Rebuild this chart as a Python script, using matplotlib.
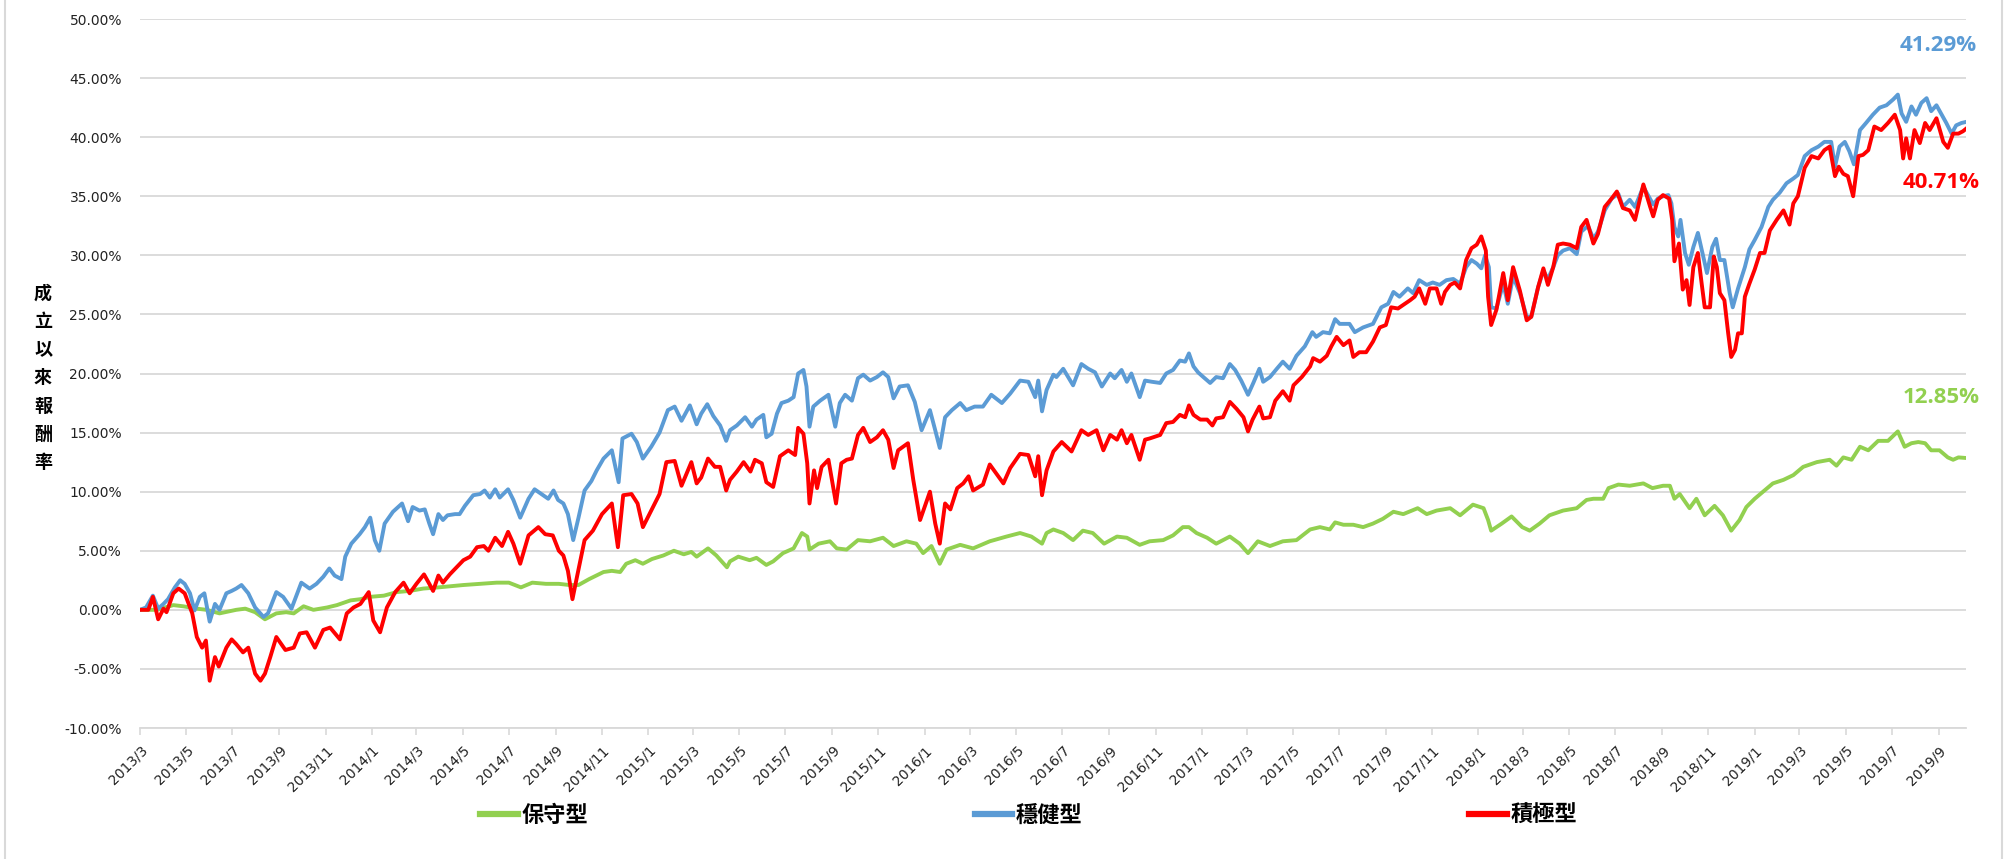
import pandas as pd
import matplotlib
matplotlib.use("Agg")
import matplotlib.pyplot as plt
from matplotlib.lines import Line2D
from matplotlib.font_manager import FontProperties

# 保守型 (conservative) - return since inception, %
conservative = [
    ("2013-03-01", 0.0), ("2013-03-23", 0.0), ("2013-04-14", 0.4), ("2013-04-27", 0.3), ("2013-05-15", 0.1),
    ("2013-05-28", 0.0), ("2013-06-14", -0.3), ("2013-07-06", 0.0), ("2013-07-18", 0.1), ("2013-07-31", -0.2),
    ("2013-08-13", -0.8), ("2013-08-28", -0.3), ("2013-09-10", -0.2), ("2013-09-20", -0.3), ("2013-10-03", 0.3),
    ("2013-10-16", 0.0), ("2013-11-03", 0.2), ("2013-11-16", 0.4), ("2013-12-04", 0.8), ("2013-12-17", 0.9),
    ("2013-12-30", 1.1), ("2014-01-17", 1.2), ("2014-02-03", 1.5), ("2014-02-20", 1.6), ("2014-03-10", 1.8),
    ("2014-03-30", 1.9), ("2014-05-02", 2.1), ("2014-06-15", 2.3), ("2014-07-01", 2.3), ("2014-07-17", 1.9),
    ("2014-08-01", 2.3), ("2014-08-19", 2.2), ("2014-09-05", 2.2), ("2014-09-19", 2.1), ("2014-10-01", 2.1),
    ("2014-10-15", 2.6), ("2014-11-03", 3.2), ("2014-11-14", 3.3), ("2014-11-25", 3.2), ("2014-12-03", 3.9),
    ("2014-12-15", 4.2), ("2014-12-25", 3.9), ("2015-01-06", 4.3), ("2015-01-21", 4.6), ("2015-02-04", 5.0),
    ("2015-02-17", 4.7), ("2015-02-27", 4.9), ("2015-03-06", 4.5), ("2015-03-21", 5.2), ("2015-04-01", 4.6),
    ("2015-04-15", 3.6), ("2015-04-19", 4.1), ("2015-04-30", 4.5), ("2015-05-15", 4.2), ("2015-05-24", 4.4),
    ("2015-06-06", 3.8), ("2015-06-15", 4.1), ("2015-06-28", 4.8), ("2015-07-12", 5.2), ("2015-07-23", 6.5),
    ("2015-07-30", 6.2), ("2015-08-02", 5.1), ("2015-08-14", 5.6), ("2015-08-29", 5.8), ("2015-09-07", 5.2),
    ("2015-09-20", 5.1), ("2015-10-05", 5.9), ("2015-10-21", 5.8), ("2015-11-07", 6.1), ("2015-11-21", 5.4),
    ("2015-12-08", 5.8), ("2015-12-21", 5.6), ("2015-12-30", 4.8), ("2016-01-10", 5.4), ("2016-01-21", 3.9),
    ("2016-01-30", 5.1), ("2016-02-17", 5.5), ("2016-03-05", 5.2), ("2016-03-27", 5.8), ("2016-04-18", 6.2),
    ("2016-05-06", 6.5), ("2016-05-21", 6.2), ("2016-06-04", 5.6), ("2016-06-10", 6.5), ("2016-06-19", 6.8),
    ("2016-07-02", 6.5), ("2016-07-15", 5.9), ("2016-07-28", 6.7), ("2016-08-10", 6.5), ("2016-08-25", 5.6),
    ("2016-09-11", 6.2), ("2016-09-24", 6.1), ("2016-10-11", 5.5), ("2016-10-24", 5.8), ("2016-11-11", 5.9),
    ("2016-11-24", 6.3), ("2016-12-07", 7.0), ("2016-12-15", 7.0), ("2016-12-25", 6.5), ("2017-01-08", 6.1),
    ("2017-01-20", 5.6), ("2017-02-07", 6.2), ("2017-02-20", 5.6), ("2017-03-03", 4.8), ("2017-03-16", 5.8),
    ("2017-04-01", 5.4), ("2017-04-18", 5.8), ("2017-05-06", 5.9), ("2017-05-24", 6.8), ("2017-06-06", 7.0),
    ("2017-06-19", 6.8), ("2017-06-26", 7.4), ("2017-07-07", 7.2), ("2017-07-20", 7.2), ("2017-08-02", 7.0),
    ("2017-08-15", 7.3), ("2017-08-28", 7.7), ("2017-09-11", 8.3), ("2017-09-24", 8.1), ("2017-10-13", 8.6),
    ("2017-10-25", 8.1), ("2017-11-07", 8.4), ("2017-11-25", 8.6), ("2017-12-08", 8.0), ("2017-12-25", 8.9),
    ("2018-01-08", 8.6), ("2018-01-14", 7.6), ("2018-01-18", 6.7), ("2018-02-01", 7.3), ("2018-02-14", 7.9),
    ("2018-02-28", 7.0), ("2018-03-10", 6.7), ("2018-03-23", 7.3), ("2018-04-05", 8.0), ("2018-04-23", 8.4),
    ("2018-05-11", 8.6), ("2018-05-24", 9.3), ("2018-06-02", 9.4), ("2018-06-15", 9.4), ("2018-06-22", 10.3),
    ("2018-07-05", 10.6), ("2018-07-20", 10.5), ("2018-08-07", 10.7), ("2018-08-19", 10.3), ("2018-09-02", 10.5),
    ("2018-09-11", 10.5), ("2018-09-17", 9.4), ("2018-09-24", 9.8), ("2018-10-07", 8.6), ("2018-10-16", 9.4),
    ("2018-10-27", 8.0), ("2018-11-09", 8.8), ("2018-11-20", 8.0), ("2018-12-01", 6.7), ("2018-12-12", 7.6),
    ("2018-12-21", 8.7), ("2019-01-01", 9.4), ("2019-01-12", 10.0), ("2019-01-25", 10.7), ("2019-02-08", 11.0),
    ("2019-02-21", 11.4), ("2019-03-06", 12.1), ("2019-03-24", 12.5), ("2019-04-10", 12.7), ("2019-04-19", 12.2),
    ("2019-04-28", 12.9), ("2019-05-09", 12.7), ("2019-05-20", 13.8), ("2019-05-31", 13.5), ("2019-06-13", 14.3),
    ("2019-06-26", 14.3), ("2019-07-09", 15.1), ("2019-07-18", 13.8), ("2019-07-27", 14.1), ("2019-08-05", 14.2),
    ("2019-08-14", 14.1), ("2019-08-22", 13.5), ("2019-09-02", 13.5), ("2019-09-13", 12.9), ("2019-09-20", 12.7),
    ("2019-09-27", 12.9), ("2019-10-07", 12.85),
]

# 穩健型 (balanced)
balanced = [
    ("2013-03-01", 0.0), ("2013-03-09", 0.2), ("2013-03-18", 1.2), ("2013-03-25", 0.1), ("2013-04-01", 0.5),
    ("2013-04-07", 0.9), ("2013-04-16", 1.9), ("2013-04-23", 2.5), ("2013-04-29", 2.2), ("2013-05-06", 1.4),
    ("2013-05-12", -0.05), ("2013-05-19", 1.1), ("2013-05-25", 1.4), ("2013-06-01", -1.0), ("2013-06-08", 0.5),
    ("2013-06-14", 0.0), ("2013-06-23", 1.4), ("2013-06-30", 1.6), ("2013-07-06", 1.8), ("2013-07-13", 2.1),
    ("2013-07-22", 1.4), ("2013-07-31", 0.2), ("2013-08-11", -0.6), ("2013-08-17", -0.3), ("2013-08-28", 1.5),
    ("2013-09-06", 1.1), ("2013-09-17", 0.1), ("2013-09-30", 2.3), ("2013-10-11", 1.8), ("2013-10-20", 2.2),
    ("2013-10-29", 2.8), ("2013-11-06", 3.5), ("2013-11-13", 2.9), ("2013-11-22", 2.6), ("2013-11-27", 4.5),
    ("2013-12-05", 5.6), ("2013-12-16", 6.4), ("2013-12-23", 7.0), ("2013-12-30", 7.8), ("2014-01-05", 5.9),
    ("2014-01-11", 5.0), ("2014-01-18", 7.3), ("2014-01-29", 8.3), ("2014-02-10", 9.0), ("2014-02-18", 7.5),
    ("2014-02-24", 8.7), ("2014-03-05", 8.4), ("2014-03-12", 8.5), ("2014-03-18", 7.3), ("2014-03-23", 6.4),
    ("2014-03-30", 8.1), ("2014-04-05", 7.6), ("2014-04-11", 8.0), ("2014-04-21", 8.1), ("2014-04-27", 8.1),
    ("2014-05-04", 8.8), ("2014-05-15", 9.7), ("2014-05-24", 9.8), ("2014-05-30", 10.1), ("2014-06-06", 9.5),
    ("2014-06-13", 10.2), ("2014-06-19", 9.5), ("2014-06-30", 10.2), ("2014-07-07", 9.3), ("2014-07-16", 7.8),
    ("2014-07-27", 9.4), ("2014-08-04", 10.2), ("2014-08-13", 9.8), ("2014-08-22", 9.4), ("2014-08-29", 10.1),
    ("2014-09-04", 9.3), ("2014-09-11", 9.0), ("2014-09-17", 8.1), ("2014-09-24", 5.9), ("2014-10-01", 7.8),
    ("2014-10-09", 10.1), ("2014-10-18", 10.9), ("2014-10-25", 11.8), ("2014-11-03", 12.8), ("2014-11-14", 13.5),
    ("2014-11-23", 10.8), ("2014-11-28", 14.5), ("2014-12-10", 14.9), ("2014-12-17", 14.2), ("2014-12-25", 12.8),
    ("2015-01-05", 13.8), ("2015-01-16", 15.0), ("2015-01-27", 16.9), ("2015-02-05", 17.2), ("2015-02-14", 16.0),
    ("2015-02-25", 17.3), ("2015-03-06", 15.7), ("2015-03-12", 16.6), ("2015-03-20", 17.4), ("2015-03-28", 16.4),
    ("2015-04-06", 15.6), ("2015-04-14", 14.3), ("2015-04-19", 15.2), ("2015-04-28", 15.6), ("2015-05-09", 16.3),
    ("2015-05-18", 15.5), ("2015-05-24", 16.1), ("2015-06-02", 16.5), ("2015-06-06", 14.6), ("2015-06-13", 14.9),
    ("2015-06-20", 16.6), ("2015-06-26", 17.5), ("2015-07-05", 17.7), ("2015-07-12", 18.0), ("2015-07-18", 20.0),
    ("2015-07-25", 20.3), ("2015-07-29", 18.9), ("2015-08-02", 15.5), ("2015-08-07", 17.2), ("2015-08-16", 17.7),
    ("2015-08-27", 18.2), ("2015-09-05", 15.5), ("2015-09-11", 17.5), ("2015-09-18", 18.2), ("2015-09-27", 17.7),
    ("2015-10-05", 19.6), ("2015-10-12", 19.9), ("2015-10-21", 19.4), ("2015-10-30", 19.7), ("2015-11-07", 20.1),
    ("2015-11-14", 19.7), ("2015-11-21", 17.9), ("2015-11-29", 18.9), ("2015-12-10", 19.0), ("2015-12-19", 17.6),
    ("2015-12-28", 15.2), ("2016-01-08", 16.9), ("2016-01-15", 15.2), ("2016-01-21", 13.7), ("2016-01-28", 16.3),
    ("2016-02-06", 16.9), ("2016-02-17", 17.5), ("2016-02-25", 16.9), ("2016-03-07", 17.2), ("2016-03-18", 17.2),
    ("2016-03-29", 18.2), ("2016-04-12", 17.5), ("2016-04-23", 18.3), ("2016-05-06", 19.4), ("2016-05-17", 19.3),
    ("2016-05-26", 18.0), ("2016-05-30", 19.4), ("2016-06-04", 16.8), ("2016-06-10", 18.6), ("2016-06-19", 19.9),
    ("2016-06-23", 19.7), ("2016-07-02", 20.4), ("2016-07-15", 19.0), ("2016-07-26", 20.8), ("2016-08-04", 20.4),
    ("2016-08-13", 20.1), ("2016-08-22", 18.9), ("2016-09-02", 20.0), ("2016-09-08", 19.6), ("2016-09-17", 20.3),
    ("2016-09-24", 19.3), ("2016-09-30", 20.0), ("2016-10-11", 18.0), ("2016-10-18", 19.4), ("2016-10-27", 19.3),
    ("2016-11-07", 19.2), ("2016-11-15", 20.0), ("2016-11-24", 20.3), ("2016-12-03", 21.1), ("2016-12-10", 21.0),
    ("2016-12-15", 21.7), ("2016-12-21", 20.6), ("2016-12-27", 20.1), ("2017-01-03", 19.7), ("2017-01-12", 19.2),
    ("2017-01-20", 19.7), ("2017-01-29", 19.6), ("2017-02-07", 20.8), ("2017-02-14", 20.3), ("2017-02-22", 19.4),
    ("2017-03-03", 18.2), ("2017-03-10", 19.2), ("2017-03-18", 20.4), ("2017-03-23", 19.3), ("2017-04-01", 19.7),
    ("2017-04-10", 20.4), ("2017-04-18", 21.0), ("2017-04-27", 20.4), ("2017-05-06", 21.5), ("2017-05-17", 22.3),
    ("2017-05-27", 23.5), ("2017-06-01", 23.1), ("2017-06-10", 23.5), ("2017-06-19", 23.4), ("2017-06-26", 24.6),
    ("2017-07-02", 24.2), ("2017-07-15", 24.2), ("2017-07-22", 23.5), ("2017-08-02", 23.9), ("2017-08-15", 24.2),
    ("2017-08-26", 25.6), ("2017-09-04", 25.9), ("2017-09-11", 26.9), ("2017-09-19", 26.5), ("2017-09-30", 27.2),
    ("2017-10-07", 26.8), ("2017-10-15", 27.9), ("2017-10-25", 27.5), ("2017-11-02", 27.7), ("2017-11-11", 27.5),
    ("2017-11-20", 27.9), ("2017-11-29", 28.0), ("2017-12-08", 27.6), ("2017-12-16", 29.0), ("2017-12-23", 29.6),
    ("2017-12-30", 29.3), ("2018-01-05", 28.9), ("2018-01-10", 30.0), ("2018-01-15", 29.0), ("2018-01-18", 25.6),
    ("2018-01-25", 25.5), ("2018-02-03", 27.6), ("2018-02-09", 25.9), ("2018-02-16", 28.2), ("2018-02-25", 26.8),
    ("2018-03-06", 24.8), ("2018-03-12", 24.8), ("2018-03-21", 27.3), ("2018-03-28", 28.7), ("2018-04-03", 28.0),
    ("2018-04-10", 29.0), ("2018-04-16", 30.0), ("2018-04-23", 30.4), ("2018-05-02", 30.6), ("2018-05-11", 30.1),
    ("2018-05-17", 32.0), ("2018-05-26", 32.5), ("2018-06-02", 31.4), ("2018-06-08", 32.0), ("2018-06-17", 33.8),
    ("2018-06-26", 34.8), ("2018-07-05", 35.2), ("2018-07-11", 34.1), ("2018-07-20", 34.7), ("2018-07-27", 34.1),
    ("2018-08-07", 35.8), ("2018-08-13", 35.1), ("2018-08-20", 34.3), ("2018-08-26", 34.8), ("2018-09-02", 35.0),
    ("2018-09-09", 35.1), ("2018-09-13", 34.4), ("2018-09-17", 32.4), ("2018-09-22", 31.6), ("2018-09-25", 33.0),
    ("2018-10-01", 30.2), ("2018-10-06", 29.2), ("2018-10-12", 30.7), ("2018-10-18", 31.9), ("2018-10-24", 30.2),
    ("2018-10-30", 28.5), ("2018-11-06", 30.7), ("2018-11-11", 31.4), ("2018-11-16", 29.6), ("2018-11-22", 29.6),
    ("2018-11-29", 26.8), ("2018-12-03", 25.6), ("2018-12-10", 27.2), ("2018-12-19", 29.0), ("2018-12-25", 30.5),
    ("2019-01-01", 31.3), ("2019-01-10", 32.4), ("2019-01-19", 34.1), ("2019-01-25", 34.7), ("2019-02-03", 35.3),
    ("2019-02-12", 36.1), ("2019-02-21", 36.5), ("2019-02-27", 36.8), ("2019-03-08", 38.4), ("2019-03-17", 38.9),
    ("2019-03-26", 39.2), ("2019-04-03", 39.6), ("2019-04-12", 39.6), ("2019-04-17", 37.5), ("2019-04-23", 39.2),
    ("2019-04-30", 39.6), ("2019-05-06", 38.8), ("2019-05-12", 37.7), ("2019-05-20", 40.6), ("2019-05-28", 41.2),
    ("2019-06-06", 41.9), ("2019-06-15", 42.5), ("2019-06-24", 42.7), ("2019-07-03", 43.2), ("2019-07-09", 43.6),
    ("2019-07-14", 42.0), ("2019-07-20", 41.3), ("2019-07-27", 42.6), ("2019-08-02", 41.9), ("2019-08-09", 42.9),
    ("2019-08-16", 43.3), ("2019-08-22", 42.2), ("2019-08-29", 42.7), ("2019-09-04", 42.0), ("2019-09-11", 41.2),
    ("2019-09-18", 40.3), ("2019-09-24", 41.0), ("2019-10-01", 41.2), ("2019-10-07", 41.29),
]

# 積極型 (aggressive)
aggressive = [
    ("2013-03-01", 0.0), ("2013-03-12", 0.0), ("2013-03-18", 1.1), ("2013-03-25", -0.8), ("2013-04-01", 0.1),
    ("2013-04-05", -0.2), ("2013-04-14", 1.4), ("2013-04-21", 1.8), ("2013-04-29", 1.4), ("2013-05-09", -0.3),
    ("2013-05-15", -2.3), ("2013-05-22", -3.2), ("2013-05-27", -2.6), ("2013-06-01", -6.0), ("2013-06-08", -4.0),
    ("2013-06-13", -4.8), ("2013-06-23", -3.2), ("2013-06-30", -2.5), ("2013-07-06", -2.9), ("2013-07-15", -3.6),
    ("2013-07-22", -3.2), ("2013-07-31", -5.4), ("2013-08-07", -6.0), ("2013-08-13", -5.4), ("2013-08-20", -4.0),
    ("2013-08-28", -2.3), ("2013-09-09", -3.4), ("2013-09-20", -3.2), ("2013-09-28", -2.0), ("2013-10-07", -1.9),
    ("2013-10-18", -3.2), ("2013-10-29", -1.7), ("2013-11-07", -1.5), ("2013-11-20", -2.5), ("2013-11-29", -0.3),
    ("2013-12-08", 0.2), ("2013-12-17", 0.5), ("2013-12-28", 1.5), ("2014-01-03", -0.9), ("2014-01-12", -1.9),
    ("2014-01-21", 0.2), ("2014-02-01", 1.5), ("2014-02-12", 2.3), ("2014-02-20", 1.4), ("2014-03-01", 2.2),
    ("2014-03-11", 3.0), ("2014-03-18", 2.2), ("2014-03-23", 1.6), ("2014-03-30", 2.9), ("2014-04-05", 2.3),
    ("2014-04-14", 3.0), ("2014-04-23", 3.6), ("2014-05-02", 4.2), ("2014-05-11", 4.5), ("2014-05-20", 5.3),
    ("2014-05-29", 5.4), ("2014-06-04", 5.0), ("2014-06-13", 6.1), ("2014-06-22", 5.4), ("2014-06-30", 6.6),
    ("2014-07-07", 5.6), ("2014-07-16", 3.9), ("2014-07-27", 6.3), ("2014-08-09", 7.0), ("2014-08-18", 6.4),
    ("2014-08-28", 6.3), ("2014-09-05", 5.0), ("2014-09-11", 4.6), ("2014-09-17", 3.3), ("2014-09-23", 0.9),
    ("2014-09-29", 2.8), ("2014-10-09", 5.9), ("2014-10-20", 6.7), ("2014-11-01", 8.1), ("2014-11-14", 9.0),
    ("2014-11-22", 5.3), ("2014-11-29", 9.7), ("2014-12-10", 9.8), ("2014-12-18", 9.0), ("2014-12-25", 7.0),
    ("2015-01-05", 8.4), ("2015-01-16", 9.8), ("2015-01-25", 12.5), ("2015-02-05", 12.6), ("2015-02-14", 10.5),
    ("2015-02-27", 12.5), ("2015-03-06", 10.7), ("2015-03-12", 11.2), ("2015-03-21", 12.8), ("2015-03-30", 12.1),
    ("2015-04-06", 12.1), ("2015-04-14", 10.1), ("2015-04-19", 11.0), ("2015-04-28", 11.7), ("2015-05-07", 12.5),
    ("2015-05-16", 11.7), ("2015-05-22", 12.7), ("2015-05-31", 12.4), ("2015-06-06", 10.8), ("2015-06-15", 10.4),
    ("2015-06-24", 13.0), ("2015-07-05", 13.5), ("2015-07-14", 13.1), ("2015-07-18", 15.4), ("2015-07-25", 14.9),
    ("2015-07-30", 12.4), ("2015-08-02", 9.0), ("2015-08-08", 11.8), ("2015-08-12", 10.3), ("2015-08-18", 12.1),
    ("2015-08-27", 12.7), ("2015-09-06", 9.0), ("2015-09-13", 12.4), ("2015-09-20", 12.7), ("2015-09-27", 12.8),
    ("2015-10-05", 14.8), ("2015-10-12", 15.4), ("2015-10-21", 14.2), ("2015-10-30", 14.6), ("2015-11-07", 15.2),
    ("2015-11-14", 14.4), ("2015-11-21", 12.0), ("2015-11-27", 13.5), ("2015-12-10", 14.1), ("2015-12-17", 11.0),
    ("2015-12-26", 7.6), ("2016-01-08", 10.0), ("2016-01-15", 7.3), ("2016-01-21", 5.6), ("2016-01-28", 9.0),
    ("2016-02-04", 8.5), ("2016-02-13", 10.3), ("2016-02-21", 10.7), ("2016-02-28", 11.3), ("2016-03-05", 10.1),
    ("2016-03-18", 10.6), ("2016-03-27", 12.3), ("2016-04-05", 11.5), ("2016-04-14", 10.7), ("2016-04-23", 12.0),
    ("2016-05-06", 13.2), ("2016-05-17", 13.1), ("2016-05-26", 11.3), ("2016-05-30", 13.0), ("2016-06-04", 9.7),
    ("2016-06-10", 11.8), ("2016-06-19", 13.4), ("2016-06-30", 14.2), ("2016-07-13", 13.4), ("2016-07-26", 15.2),
    ("2016-08-04", 14.8), ("2016-08-15", 15.2), ("2016-08-24", 13.5), ("2016-09-02", 14.8), ("2016-09-11", 14.4),
    ("2016-09-17", 15.2), ("2016-09-24", 14.1), ("2016-09-30", 14.8), ("2016-10-11", 12.7), ("2016-10-18", 14.4),
    ("2016-10-24", 14.5), ("2016-11-07", 14.8), ("2016-11-15", 15.8), ("2016-11-24", 15.9), ("2016-12-03", 16.5),
    ("2016-12-10", 16.3), ("2016-12-15", 17.3), ("2016-12-21", 16.5), ("2016-12-30", 16.1), ("2017-01-08", 16.1),
    ("2017-01-15", 15.6), ("2017-01-20", 16.2), ("2017-01-29", 16.3), ("2017-02-07", 17.6), ("2017-02-16", 17.0),
    ("2017-02-25", 16.3), ("2017-03-03", 15.1), ("2017-03-09", 16.1), ("2017-03-18", 17.2), ("2017-03-23", 16.2),
    ("2017-04-01", 16.3), ("2017-04-08", 17.7), ("2017-04-18", 18.5), ("2017-04-27", 17.7), ("2017-05-02", 19.0),
    ("2017-05-13", 19.7), ("2017-05-24", 20.6), ("2017-05-28", 21.3), ("2017-06-06", 21.0), ("2017-06-15", 21.5),
    ("2017-06-21", 22.3), ("2017-06-28", 23.1), ("2017-07-07", 22.4), ("2017-07-15", 22.8), ("2017-07-20", 21.4),
    ("2017-07-28", 21.8), ("2017-08-06", 21.8), ("2017-08-15", 22.7), ("2017-08-24", 23.9), ("2017-09-01", 24.1),
    ("2017-09-08", 25.6), ("2017-09-17", 25.5), ("2017-09-26", 25.9), ("2017-10-03", 26.2), ("2017-10-09", 26.5),
    ("2017-10-15", 27.2), ("2017-10-23", 25.9), ("2017-10-29", 27.2), ("2017-11-07", 27.2), ("2017-11-13", 25.9),
    ("2017-11-18", 26.9), ("2017-11-25", 27.5), ("2017-12-01", 27.7), ("2017-12-08", 27.2), ("2017-12-16", 29.6),
    ("2017-12-23", 30.6), ("2017-12-30", 30.9), ("2018-01-05", 31.6), ("2018-01-11", 30.4), ("2018-01-14", 26.5),
    ("2018-01-18", 24.1), ("2018-01-25", 25.4), ("2018-02-03", 28.5), ("2018-02-09", 26.2), ("2018-02-16", 29.0),
    ("2018-02-25", 27.0), ("2018-03-06", 24.5), ("2018-03-12", 24.8), ("2018-03-21", 27.3), ("2018-03-28", 28.9),
    ("2018-04-03", 27.5), ("2018-04-10", 29.0), ("2018-04-16", 30.9), ("2018-04-23", 31.0), ("2018-05-02", 30.9),
    ("2018-05-11", 30.6), ("2018-05-17", 32.4), ("2018-05-24", 33.0), ("2018-06-02", 31.0), ("2018-06-08", 31.8),
    ("2018-06-17", 34.1), ("2018-06-26", 34.8), ("2018-07-03", 35.4), ("2018-07-11", 34.0), ("2018-07-20", 33.8),
    ("2018-07-27", 33.0), ("2018-08-07", 36.0), ("2018-08-16", 34.1), ("2018-08-20", 33.3), ("2018-08-26", 34.7),
    ("2018-09-02", 35.1), ("2018-09-10", 34.8), ("2018-09-14", 33.0), ("2018-09-17", 29.5), ("2018-09-23", 31.0),
    ("2018-09-28", 27.1), ("2018-10-03", 27.9), ("2018-10-07", 25.8), ("2018-10-12", 29.0), ("2018-10-18", 30.2),
    ("2018-10-23", 27.6), ("2018-10-27", 25.6), ("2018-11-03", 25.6), ("2018-11-08", 29.9), ("2018-11-12", 29.0),
    ("2018-11-16", 26.8), ("2018-11-22", 26.2), ("2018-11-27", 23.4), ("2018-12-01", 21.4), ("2018-12-06", 22.0),
    ("2018-12-10", 23.4), ("2018-12-15", 23.4), ("2018-12-19", 26.5), ("2018-12-25", 27.6), ("2019-01-01", 28.8),
    ("2019-01-08", 30.2), ("2019-01-14", 30.2), ("2019-01-21", 32.1), ("2019-01-30", 33.0), ("2019-02-08", 33.8),
    ("2019-02-16", 32.6), ("2019-02-21", 34.4), ("2019-02-27", 35.0), ("2019-03-08", 37.4), ("2019-03-17", 38.4),
    ("2019-03-26", 38.2), ("2019-04-03", 38.9), ("2019-04-10", 39.2), ("2019-04-17", 36.7), ("2019-04-22", 37.5),
    ("2019-04-28", 36.9), ("2019-05-04", 36.7), ("2019-05-11", 35.0), ("2019-05-18", 38.4), ("2019-05-24", 38.5),
    ("2019-05-31", 38.9), ("2019-06-08", 40.9), ("2019-06-17", 40.6), ("2019-06-26", 41.2), ("2019-07-05", 41.9),
    ("2019-07-12", 40.6), ("2019-07-16", 38.2), ("2019-07-20", 39.9), ("2019-07-25", 38.2), ("2019-07-31", 40.6),
    ("2019-08-07", 39.5), ("2019-08-14", 41.2), ("2019-08-20", 40.6), ("2019-08-29", 41.6), ("2019-09-07", 39.6),
    ("2019-09-13", 39.1), ("2019-09-20", 40.3), ("2019-09-27", 40.3), ("2019-10-03", 40.5), ("2019-10-07", 40.71),
]

series_names = ["保守型", "穩健型", "積極型"]
series_colors = ["#92D050", "#5B9BD5", "#FF0000"]
end_labels = ["12.85%", "41.29%", "40.71%"]
y_ticks = list(range(-10, 55, 5))
ylabel_text = "成立以來報酬率"
start_date, end_date = "2013-03-01", "2019-10-07"

cjk = ["Noto Sans CJK TC", "DejaVu Sans"]
grid_color = "#D9D9D9"

W, H = 2012, 859
fig = plt.figure(figsize=(W / 100, H / 100), dpi=100)
ax = fig.add_axes([140 / W, 1 - 728 / H, 1826 / W, 709 / H])

handles = []
for data, name, color in zip([conservative, balanced, aggressive], series_names, series_colors):
    df = pd.DataFrame(data, columns=["date", "value"])
    df["date"] = pd.to_datetime(df["date"])
    ax.plot(df["date"], df["value"], color=color, lw=2.8, solid_joinstyle="round")
    handles.append(Line2D([], [], color=color, lw=4.5))

ax.set_xlim(pd.Timestamp(start_date), pd.Timestamp(end_date))
ax.set_ylim(y_ticks[0], y_ticks[-1])
ax.set_yticks(y_ticks)
ax.set_yticklabels([f"{v:.2f}%" for v in y_ticks])
ax.yaxis.grid(True, color=grid_color, lw=1.3)
ax.set_axisbelow(True)

xt = pd.date_range(start_date, "2019-09-01", freq="2MS")
ax.set_xticks(xt)
ax.set_xticklabels([f"{d.year}/{d.month}" for d in xt], rotation=45, ha="right",
                   rotation_mode="anchor")

for s in ["top", "right", "left"]:
    ax.spines[s].set_visible(False)
ax.spines["bottom"].set_color(grid_color)
ax.spines["bottom"].set_linewidth(1.3)
ax.tick_params(axis="y", length=0, pad=13, labelsize=10, labelcolor="#222222")
ax.tick_params(axis="x", length=5, width=1.2, color=grid_color, pad=6, labelsize=10,
               labelcolor="#222222")

# end-of-period labels
label_pos = [(0.9862, 0.4668), (0.9847, 0.9633), (0.9862, 0.7687)]
for txt, color, (px, py) in zip(end_labels, series_colors, label_pos):
    ax.text(px, py, txt, transform=ax.transAxes, color=color, fontsize=16,
            fontweight="bold", family=["Open Sans", "DejaVu Sans"], ha="center", va="center",
            clip_on=False)

# vertical stacked y-axis title
for i, ch in enumerate(ylabel_text):
    fig.text(43 / W, 1 - (293 + 28.3 * i) / H, ch, family=cjk, fontweight="bold",
             fontsize=13, ha="center", va="center")

fig.legend(handles, series_names, ncol=3, loc="center left",
           bbox_to_anchor=(480 / W, 1 - 815 / H), frameon=False, handlelength=1.7,
           handletextpad=0.15, columnspacing=17.4, borderpad=0, borderaxespad=0,
           prop=FontProperties(family=cjk, weight="bold", size=16))

# chart area border
for bx in [5, 2002]:
    fig.add_artist(Line2D([bx / W, bx / W], [0, 1], color=grid_color, lw=1.5,
                          transform=fig.transFigure))

fig.savefig("out.png", dpi=100)
